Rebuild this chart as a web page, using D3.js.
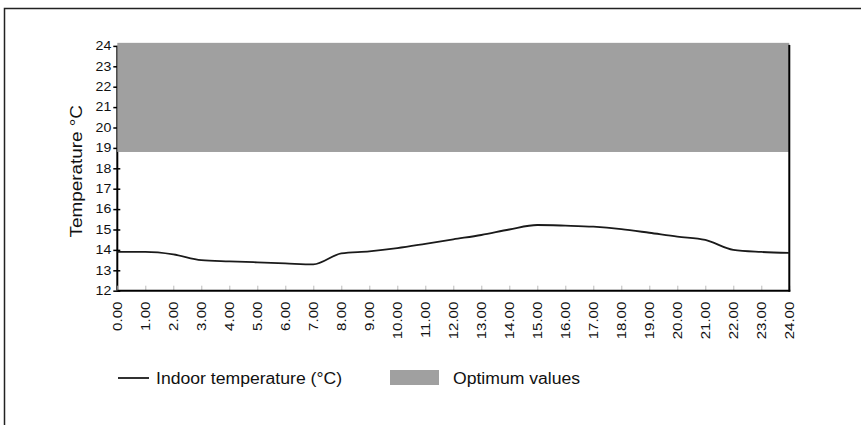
<!DOCTYPE html>
<html><head><meta charset="utf-8">
<script src="https://cdn.jsdelivr.net/npm/d3@7"></script>
<style>
html,body{margin:0;padding:0;background:#fff;}
svg{display:block;font-family:"Liberation Sans",Arial,sans-serif;}
</style></head>
<body><svg id="chart" width="861" height="425"></svg>
<script>
const hours = [0,1,2,3,4,5,6,7,8,9,10,11,12,13,14,15,16,17,18,19,20,21,22,23,24];
const hourLabels = hours.map(h => h.toFixed(2));
const indoorTemp = [13.9,13.9,13.78,13.5,13.44,13.39,13.34,13.29,13.83,13.93,14.09,14.3,14.52,14.73,15.0,15.22,15.19,15.14,15.02,14.84,14.65,14.49,14.0,13.9,13.85];
const optimumBand = [18.8, 24.15];
const yTicks = [12,13,14,15,16,17,18,19,20,21,22,23,24];
const seriesNames = ["Indoor temperature (\u00b0C)", "Optimum values"];

(function(){
const svg = d3.select("#chart");
const pL = 117.3, pR = 789.3, pT = 45.9, pB = 290.7;
const x = d3.scaleLinear().domain([0,24]).range([pL,pR]);
const y = d3.scaleLinear().domain([12,24]).range([pB,pT]);

// stretch glyphs horizontally (reference text is wide-set)
function stretch(sel, f){
  sel.each(function(){
    const w = this.getComputedTextLength();
    d3.select(this).attr("textLength", w*f).attr("lengthAdjust","spacingAndGlyphs");
  });
}

// outer frame (left & top edges visible)
svg.append("path").attr("d","M4.5,425 V8.5 H861").attr("fill","none").attr("stroke","#222").attr("stroke-width",1.5);

// y axis
const yAxis = svg.append("g").attr("transform",`translate(${pL},0)`)
  .call(d3.axisLeft(y).tickValues(yTicks).tickSize(4).tickPadding(2).tickFormat(d3.format("d")));
yAxis.select(".domain").remove();
yAxis.selectAll(".tick line").attr("x2",-4).attr("x1",3).attr("stroke","#000").attr("stroke-width",1.5);
yAxis.selectAll("text").attr("font-size",12).attr("fill","#111");
stretch(yAxis.selectAll("text"), 1.18);
svg.append("line").attr("x1",pL).attr("x2",pL).attr("y1",y(24)).attr("y2",pB).attr("stroke","#000").attr("stroke-width",2);

// x axis
const xAxis = svg.append("g").attr("transform",`translate(0,${pB})`)
  .call(d3.axisBottom(x).tickValues(hours).tickSize(0).tickFormat((d,i)=>hourLabels[i]));
xAxis.select(".domain").remove();
xAxis.selectAll(".tick text")
  .attr("transform","rotate(-90)")
  .attr("text-anchor","end")
  .attr("x",-11).attr("y",0).attr("dy","0.35em")
  .attr("font-size",12).attr("fill","#111");
stretch(xAxis.selectAll(".tick text"), 1.25);
xAxis.selectAll(".tick").append("line").attr("y1",0).attr("y2",-5).attr("stroke","#bbb").attr("stroke-width",1);
svg.append("line").attr("x1",pL).attr("x2",pR+1).attr("y1",pB).attr("y2",pB).attr("stroke","#000").attr("stroke-width",2);

// optimum band
svg.append("rect").attr("x",x(0)).attr("width",x(24)-x(0))
  .attr("y",y(optimumBand[1])).attr("height",y(optimumBand[0])-y(optimumBand[1]))
  .attr("fill","#a0a0a0");

// right axis line
svg.append("line").attr("x1",pR).attr("x2",pR).attr("y1",y(24)-1).attr("y2",pB+1).attr("stroke","#000").attr("stroke-width",2);

// indoor temperature line
const line = d3.line().x((d,i)=>x(hours[i])).y(d=>y(d)).curve(d3.curveMonotoneX);
svg.append("path").datum(indoorTemp).attr("d",line).attr("fill","none").attr("stroke","#1a1a1a").attr("stroke-width",1.8);

// y axis title
const yt = svg.append("text").attr("transform",`translate(82,${(y(12)+y(24))/2+3}) rotate(-90)`)
  .attr("text-anchor","middle").attr("font-size",16).attr("fill","#111").text("Temperature \u00b0C");
stretch(yt, 1.18);

// legend
const lg = svg.append("g");
lg.append("line").attr("x1",118).attr("x2",149).attr("y1",378).attr("y2",378).attr("stroke","#1a1a1a").attr("stroke-width",1.8);
const t1 = lg.append("text").attr("x",156).attr("y",384).attr("font-size",16).attr("fill","#111").text(seriesNames[0]);
lg.append("rect").attr("x",390).attr("y",370).attr("width",49).attr("height",15).attr("fill","#a0a0a0");
const t2 = lg.append("text").attr("x",453).attr("y",384).attr("font-size",16).attr("fill","#111").text(seriesNames[1]);
stretch(t1, 1.1); stretch(t2, 1.1);
})();
</script></body></html>
